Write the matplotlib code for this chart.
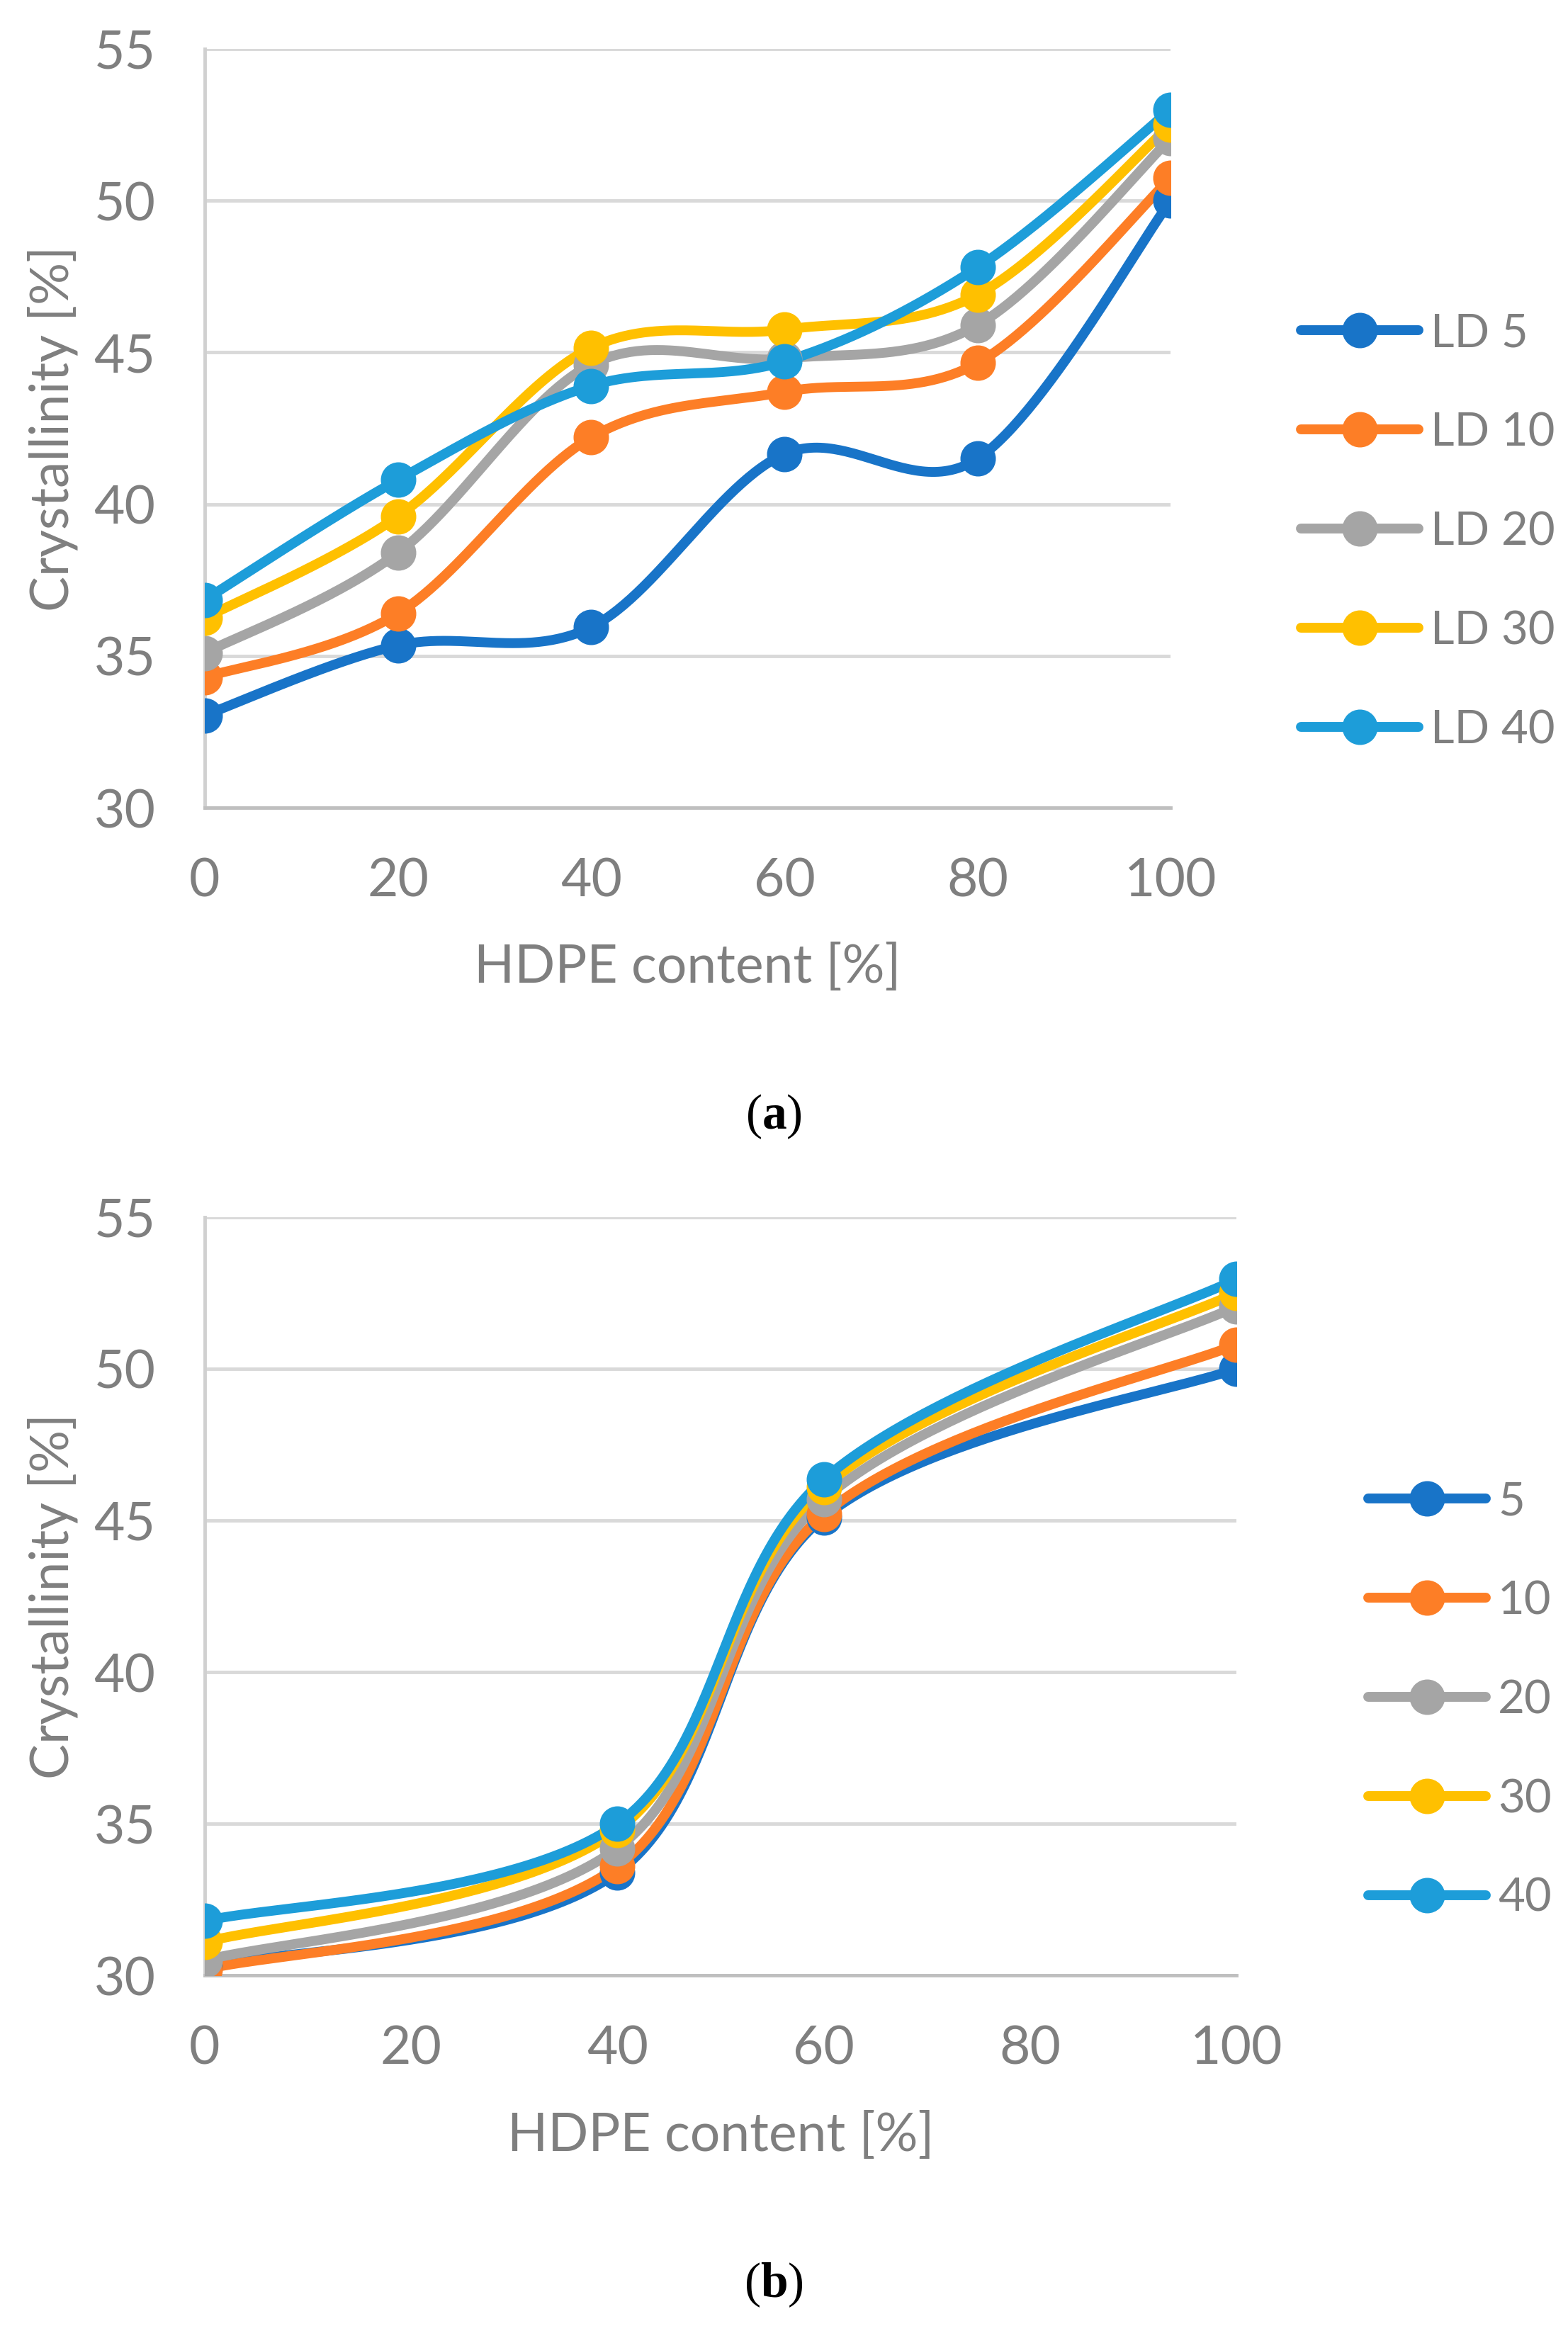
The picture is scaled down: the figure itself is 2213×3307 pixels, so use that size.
import numpy as np
import matplotlib
matplotlib.use("Agg")
import matplotlib.pyplot as plt

# panel (a): HDPE content vs crystallinity for LDPE grades
x_a = [0, 20, 40, 60, 80, 100]
labels_a = ["LD 5", "LD 10", "LD 20", "LD 30", "LD 40"]
ld5_a = [33.05, 35.35, 35.95, 41.65, 41.5, 50.0]
ld10_a = [34.3, 36.4, 42.2, 43.7, 44.65, 50.75]
ld20_a = [35.1, 38.4, 44.6, 44.8, 45.9, 52.05]
ld30_a = [36.25, 39.6, 45.15, 45.75, 46.9, 52.5]
ld40_a = [36.85, 40.8, 43.9, 44.7, 47.8, 53.0]

# panel (b)
x_b = [0, 40, 60, 100]
labels_b = ["5", "10", "20", "30", "40"]
s5_b = [30.3, 33.4, 45.1, 50.0]
s10_b = [30.2, 33.6, 45.2, 50.8]
s20_b = [30.5, 34.2, 45.7, 52.05]
s30_b = [31.1, 34.8, 46.1, 52.5]
s40_b = [31.8, 35.0, 46.35, 52.95]

colors = ["#1874C8", "#FD7E26", "#A5A5A5", "#FFC000", "#1D9DD9"]
grey_txt = "#7F7F7F"

plt.rcParams['font.family'] = ['Lato', 'DejaVu Sans']
plt.rcParams['mathtext.fontset'] = 'custom'
plt.rcParams['mathtext.rm'] = 'Liberation Serif'
plt.rcParams['mathtext.bf'] = 'Liberation Serif:bold'

W, H = 2213, 3307
fig = plt.figure(figsize=(W / 100, H / 100), dpi=100)
FS = 54
LFS = 47
LW = 10
MS = 35


def smooth(ax, xs, ys, npts=60):
    # Excel-like smoothed line (Catmull-Rom bezier in pixel space)
    pos = ax.get_position()
    x0, x1 = ax.get_xlim()
    y0, y1 = ax.get_ylim()
    aw, ah = pos.width * W, pos.height * H
    px = (np.asarray(xs, float) - x0) / (x1 - x0) * aw
    py = (np.asarray(ys, float) - y0) / (y1 - y0) * ah
    P = np.column_stack([px, py])
    n = len(P)
    out = []
    t = np.linspace(0, 1, npts)[:, None]
    for i in range(n - 1):
        p0 = P[max(i - 1, 0)]
        p1 = P[i]
        p2 = P[i + 1]
        p3 = P[min(i + 2, n - 1)]
        c1 = p1 + (p2 - p0) / 6.0
        c2 = p2 - (p3 - p1) / 6.0
        seg = ((1 - t) ** 3) * p1 + 3 * ((1 - t) ** 2) * t * c1 + 3 * (1 - t) * t ** 2 * c2 + t ** 3 * p2
        out.append(seg)
    pts = np.vstack(out)
    sx = pts[:, 0] / aw * (x1 - x0) + x0
    sy = pts[:, 1] / ah * (y1 - y0) + y0
    return sx, sy


def panel(rect, xs, series, labels, legend_anchor):
    ax = fig.add_axes(rect)
    ax.set_xlim(0, 100)
    ax.set_ylim(30, 55)
    ax.set_xticks([0, 20, 40, 60, 80, 100])
    ax.set_yticks([30, 35, 40, 45, 50, 55])
    ax.grid(axis='y', color="#D9D9D9", linewidth=3.5)
    ax.set_axisbelow(True)
    for s in ["top", "right"]:
        ax.spines[s].set_visible(False)
    ax.spines["left"].set_color("#D0D0D0")
    ax.spines["left"].set_linewidth(3.5)
    ax.spines["bottom"].set_color("#BFBFBF")
    ax.spines["bottom"].set_linewidth(3.5)
    ax.tick_params(length=0, labelsize=FS, labelcolor=grey_txt)
    ax.tick_params(axis='x', pad=50)
    ax.tick_params(axis='y', pad=50)
    ax.set_xlabel("HDPE content [%]", fontsize=FS, color=grey_txt, labelpad=38)
    ax.set_ylabel("Crystallinity [%]", fontsize=FS, color=grey_txt, labelpad=16)
    for ys, lab, c in zip(series, labels, colors):
        sx, sy = smooth(ax, xs, ys)
        ax.plot(sx, sy, color=c, linewidth=LW, solid_capstyle='round', zorder=3)
        ax.plot(xs, ys, linestyle='none', marker='o', markersize=MS, color=c, zorder=4)
        ax.plot([], [], color=c, linewidth=LW, marker='o', markersize=MS, label=lab,
                solid_capstyle='round')
    h, l = ax.get_legend_handles_labels()
    leg = fig.legend(h, l, loc='center left', bbox_to_anchor=legend_anchor, frameon=False,
                     fontsize=LFS, handlelength=2.55, labelspacing=1.24, handletextpad=0.26,
                     borderpad=0, borderaxespad=0)
    for t in leg.get_texts():
        t.set_color(grey_txt)
    return ax


panel([0.1305, 0.6552, 0.6162, 0.324], x_a,
      [ld5_a, ld10_a, ld20_a, ld30_a, ld40_a], labels_a, (0.8295, 0.773))
panel([0.1305, 0.1568, 0.6581, 0.3238], x_b,
      [s5_b, s10_b, s20_b, s30_b, s40_b], labels_b, (0.8724, 0.2744))

fig.text(0.4933, 1 - 748 / 1569, r"($\mathbf{a}$)", fontsize=50, family='Liberation Serif',
         ha='center', va='center')
fig.text(0.4933, 1 - 1530 / 1569, r"($\mathbf{b}$)", fontsize=50, family='Liberation Serif',
         ha='center', va='center')

fig.savefig("out.png", dpi=100)
